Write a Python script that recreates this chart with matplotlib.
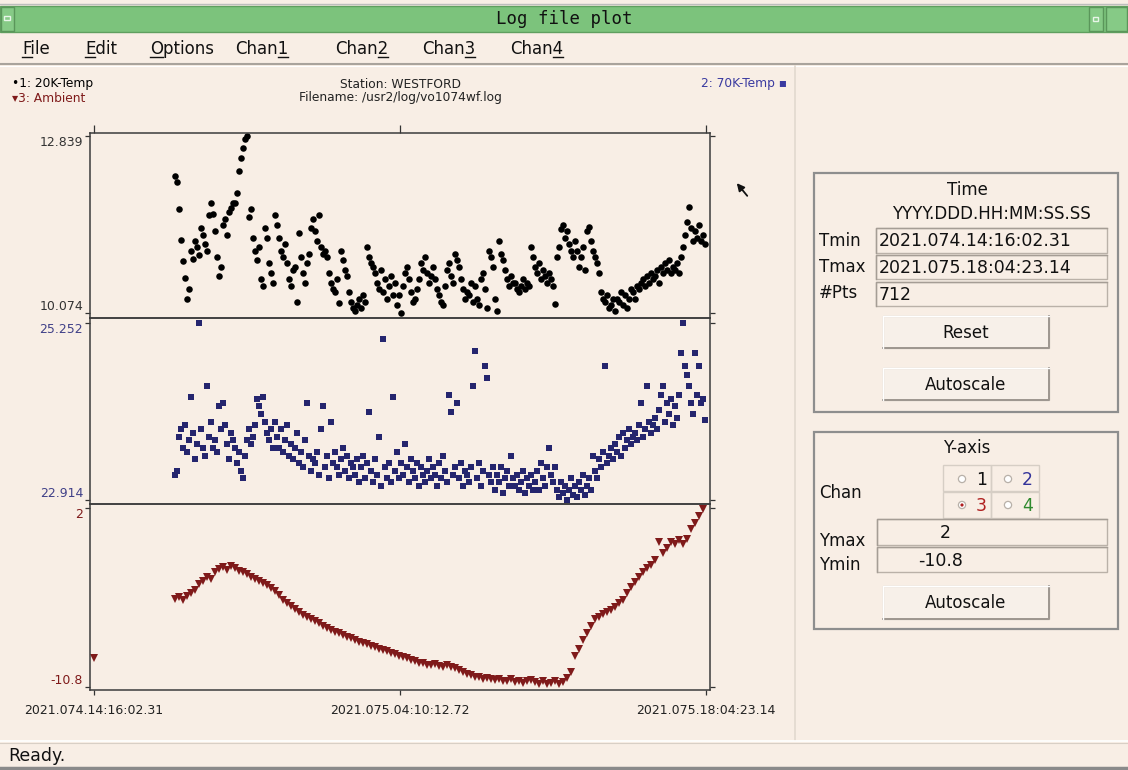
import numpy as np
import matplotlib.pyplot as plt
from matplotlib.patches import Rectangle, Circle
from matplotlib.transforms import blended_transform_factory
from matplotlib.font_manager import FontProperties

# ---- log file info ----
station = 'WESTFORD'
filename = '/usr2/log/vo1074wf.log'
tmin_str = '2021.074.14:16:02.31'
tmax_str = '2021.075.18:04:23.14'
tmid_str = '2021.075.04:10:12.72'
npts = 712

ch1_ticks = [10.074, 12.839]
ch2_ticks = [22.914, 25.252]
ch3_ticks = [-10.8, 2]
ch3_labels = ['-10.8', '2']

# samples start after a gap (hours after Tmin)
first_hr = 3.68
last_hr = 27.77
amb_last_hr = 27.68

temp20k = [
    12.21, 12.12, 11.70, 11.22, 10.88, 10.62, 10.30, 10.45, 11.05, 10.92,
    11.20, 11.10, 10.98, 11.40, 11.30, 11.15, 11.05, 11.60, 11.80, 11.62,
    11.35, 10.95, 10.65, 10.80, 11.45, 11.55, 11.30, 11.65, 11.72, 11.80,
    11.80, 11.95, 12.30, 12.50, 12.65, 12.80, 12.84, 11.58, 11.70, 11.25,
    11.05, 10.90, 11.10, 10.60, 10.50, 11.40, 11.25, 10.85, 10.70, 10.55,
    11.60, 11.45, 11.25, 11.05, 10.95, 11.15, 10.85, 10.60, 10.50, 10.75,
    10.80, 10.25, 11.33, 10.95, 10.70, 10.55, 10.85, 11.00, 11.40, 11.55,
    11.35, 11.20, 11.60, 11.10, 11.00, 11.05, 10.95, 10.70, 10.55, 10.45,
    10.40, 10.60, 10.23, 11.05, 10.90, 10.75, 10.65, 10.40, 10.25, 10.15,
    10.10, 10.20, 10.30, 10.15, 10.35, 10.25, 11.10, 10.95, 10.85, 10.80,
    10.70, 10.55, 10.45, 10.75, 10.40, 10.60, 10.30, 10.50, 10.65, 10.35,
    10.55, 10.20, 10.35, 10.08, 10.50, 10.70, 10.80, 10.60, 10.40, 10.25,
    10.30, 10.45, 10.60, 10.85, 10.75, 10.95, 10.70, 10.55, 10.65, 10.80,
    10.60, 10.45, 10.35, 10.25, 10.20, 10.50, 10.75, 10.85, 10.65, 10.55,
    11.00, 10.90, 10.80, 10.60, 10.45, 10.30, 10.40, 10.35, 10.55, 10.25,
    10.50, 10.30, 10.20, 10.60, 10.70, 10.45, 10.15, 11.05, 10.95, 10.80,
    10.30, 10.10, 11.20, 11.00, 10.90, 10.75, 10.60, 10.50, 10.65, 10.55,
    10.55, 10.45, 10.40, 10.50, 10.60, 10.45, 10.55, 10.50, 11.10, 10.95,
    10.80, 10.70, 10.85, 10.60, 10.75, 10.65, 10.55, 10.70, 10.60, 10.50,
    10.22, 10.95, 11.10, 11.38, 11.45, 11.25, 11.35, 11.15, 11.05, 10.95,
    11.20, 11.05, 10.80, 10.95, 11.10, 10.75, 11.35, 11.42, 11.20, 11.05,
    10.95, 10.85, 10.70, 10.40, 10.30, 10.25, 10.35, 10.15, 10.20, 10.30,
    10.10, 10.30, 10.25, 10.40, 10.20, 10.35, 10.15, 10.30, 10.45, 10.40,
    10.30, 10.50, 10.45, 10.55, 10.60, 10.50, 10.65, 10.55, 10.70, 10.60,
    10.65, 10.75, 10.55, 10.80, 10.70, 10.85, 10.75, 10.90, 10.70, 10.80,
    10.75, 10.85, 10.70, 10.95, 11.10, 11.30, 11.50, 11.73, 11.40, 11.20,
    11.35, 11.25, 11.45, 11.20, 11.30, 11.15,
]

temp70k = [
    23.25, 23.30, 23.75, 23.85, 23.60, 23.90, 23.55, 23.70, 24.27, 23.80,
    23.45, 23.65, 25.25, 23.85, 23.60, 23.50, 24.42, 23.75, 23.95, 23.60,
    23.70, 23.55, 24.15, 23.85, 24.20, 23.90, 23.65, 23.45, 23.80, 23.70,
    23.60, 23.40, 23.55, 23.30, 23.20, 23.50, 23.70, 23.85, 23.65, 23.75,
    23.90, 24.25, 24.15, 24.05, 24.27, 23.95, 23.80, 23.70, 23.85, 23.60,
    23.95, 23.75, 23.60, 23.85, 23.55, 23.70, 23.90, 23.50, 23.65, 23.45,
    23.60, 23.80, 23.40, 23.55, 23.35, 23.70, 24.20, 23.50, 23.30, 23.45,
    23.40, 23.55, 23.25, 23.85, 24.15, 23.35, 23.50, 23.20, 23.95, 23.40,
    23.55, 23.35, 23.25, 23.45, 23.60, 23.30, 23.50, 23.20, 23.40, 23.35,
    23.25, 23.45, 23.15, 23.35, 23.50, 23.20, 23.40, 24.07, 23.30, 23.15,
    23.45, 23.25, 23.75, 23.10, 25.04, 23.35, 23.20, 23.40, 23.15, 24.27,
    23.30, 23.55, 23.20, 23.40, 23.25, 23.65, 23.35, 23.15, 23.45, 23.30,
    23.20, 23.40, 23.10, 23.35, 23.25, 23.15, 23.30, 23.45, 23.20, 23.35,
    23.25, 23.10, 23.40, 23.20, 23.50, 23.30, 23.15, 24.30, 24.08, 23.25,
    23.35, 24.19, 23.20, 23.40, 23.10, 23.30, 23.25, 23.15, 23.35, 24.42,
    24.88, 23.20, 23.40, 23.10, 23.30, 24.68, 24.52, 23.25, 23.15, 23.35,
    23.05, 23.25, 23.15, 23.35, 23.00, 23.20, 23.30, 23.10, 23.50, 23.20,
    23.10, 23.25, 23.05, 23.15, 23.30, 23.00, 23.20, 23.10, 23.25, 23.05,
    23.15, 23.30, 23.05, 23.40, 23.20, 23.10, 23.35, 23.60, 23.25, 23.15,
    23.35, 23.05, 22.95, 23.15, 23.00, 23.10, 22.92, 23.05, 23.20, 22.98,
    23.10, 22.95, 23.15, 23.05, 23.25, 22.98, 23.10, 23.20, 23.05, 23.49,
    23.30, 23.20, 23.45, 23.35, 23.55, 24.68, 23.40, 23.50, 23.60, 23.45,
    23.65, 23.55, 23.75, 23.50, 23.80, 23.60, 23.70, 23.85, 23.65, 23.75,
    23.80, 23.70, 23.90, 24.19, 23.75, 23.85, 24.42, 23.95, 23.80, 23.90,
    24.00, 23.85, 24.10, 24.30, 24.42, 23.95, 24.20, 24.05, 24.25, 23.90,
    24.15, 24.00, 24.30, 24.85, 25.25, 24.68, 24.57, 24.42, 24.20, 24.05,
    24.85, 24.30, 24.68, 24.19, 24.25, 23.97,
]

ambient_first = -8.73   # lone reading at Tmin
ambient = [
    -4.50, -4.35, -4.60, -4.30, -4.05, -3.85, -3.40, -3.25, -2.95, -3.10,
    -2.55, -2.35, -2.20, -2.40, -2.15, -2.30, -2.50, -2.60, -2.75, -2.90,
    -3.05, -3.20, -3.35, -3.50, -3.75, -3.95, -4.25, -4.55, -4.80, -5.00,
    -5.25, -5.45, -5.65, -5.80, -5.95, -6.10, -6.25, -6.40, -6.55, -6.70,
    -6.85, -6.95, -7.10, -7.20, -7.30, -7.45, -7.55, -7.65, -7.75, -7.85,
    -7.95, -8.05, -8.15, -8.25, -8.35, -8.45, -8.55, -8.65, -8.75, -8.85,
    -8.95, -9.05, -9.10, -9.20, -9.25, -9.15, -9.30, -9.35, -9.25, -9.40,
    -9.45, -9.60, -9.75, -9.85, -9.95, -10.05, -10.10, -10.20, -10.15, -10.25,
    -10.30, -10.20, -10.35, -10.40, -10.25, -10.45, -10.35, -10.50, -10.40, -10.30,
    -10.45, -10.55, -10.40, -10.60, -10.50, -10.35, -10.55, -10.45, -10.15, -9.70,
    -8.60, -8.10, -7.45, -6.95, -6.40, -5.95, -5.80, -5.60, -5.45, -5.30,
    -5.05, -4.80, -4.55, -4.10, -3.65, -3.30, -2.95, -2.60, -2.30, -2.05,
    -1.75, -0.45, -1.20, -0.85, -0.40, -0.55, -0.30, -0.60, -0.20, 0.50,
    0.95, 1.45, 1.90,
]

# ---- colours ----
BG = '#f8eee5'
GREEN = '#7cc37c'
C1 = '#000000'
C2 = '#25256e'
C3 = '#7f1a1a'
EDGE = '#8e8e8e'
W, H = 1128, 770


def hours(s):
    _, d, rest = s.split('.', 2)
    h, m, sec = rest.split(':')
    return int(d) * 24 + int(h) + int(m) / 60 + float(sec) / 3600


T = hours(tmax_str) - hours(tmin_str)

fig = plt.figure(figsize=(W / 100, H / 100), dpi=100)
fig.patch.set_facecolor(BG)
gui = fig.add_axes([0, 0, 1, 1], zorder=0)
gui.set_xlim(0, W)
gui.set_ylim(H, 0)
gui.axis('off')

# ---- window chrome ----
gui.plot([0, W], [4, 4], color='#bdbdbd', lw=1)
gui.add_patch(Rectangle((0, 6), W, 26, fc=GREEN, ec='#5f9f5f', lw=1))
for bx, bw in [(1, 13), (1089, 14), (1106, 21)]:
    gui.add_patch(Rectangle((bx, 7), bw, 24, fc='#86ca86', ec='#5a965a', lw=1))
gui.add_patch(Rectangle((4, 16), 6, 4, fc='none', ec='#e8f5e8', lw=1))
gui.add_patch(Rectangle((1093, 17), 5, 4, fc='none', ec='#e8f5e8', lw=1))
gui.text(W / 2, 19, 'Log file plot', ha='center', va='center',
         family='DejaVu Sans Mono', fontsize=12.5, color='#111111')

# menu bar
renderer = fig.canvas.get_renderer()
menu_fp = FontProperties(family='DejaVu Sans', size=12)
menu = [('File', 22, 0), ('Edit', 85, 0), ('Options', 150, 0),
        ('Chan1', 235, 4), ('Chan2', 335, 4), ('Chan3', 422, 4), ('Chan4', 510, 4)]
for label, mx, k in menu:
    gui.text(mx, 54, label, ha='left', va='baseline', fontproperties=menu_fp, color='#111111')
    w0 = renderer.get_text_width_height_descent(label[:k], menu_fp, ismath=False)[0] if k else 0
    w1 = renderer.get_text_width_height_descent(label[:k + 1], menu_fp, ismath=False)[0]
    gui.plot([mx + w0, mx + w1], [57, 57], color='#111111', lw=1)
gui.plot([0, W], [64, 64], color='#a9a39c', lw=1.5)
gui.plot([0, W], [65.5, 65.5], color='#ffffff', lw=0.8)

# separators / status bar
gui.plot([795, 795], [66, 740], color='#e2d9cf', lw=1.2)
gui.plot([0, W], [741, 741], color='#ffffff', lw=1.2)
gui.plot([0, W], [742.5, 742.5], color='#d8cfc5', lw=0.8)
gui.text(8, 756, 'Ready.', ha='left', va='center', fontsize=12.5, color='#111111')
gui.plot([0, W], [768, 768], color='#8a8a8a', lw=2.5)

# header text above the plots
gui.text(12, 84, '\u20221: 20K-Temp', ha='left', va='center', fontsize=8.8, color=C1)
gui.text(12, 98, '\u25be3: Ambient', ha='left', va='center', fontsize=8.8, color=C3)
gui.text(400, 84, 'Station: ' + station, ha='center', va='center', fontsize=8.8, color='#222222')
gui.text(400, 98, 'Filename: ' + filename, ha='center', va='center', fontsize=8.8, color='#222222')
gui.text(787, 84, '2: 70K-Temp \u25aa', ha='right', va='center', fontsize=8.8, color='#3a3aa0')

# mouse pointer
gui.annotate('', xy=(735, 181), xytext=(749, 198),
             arrowprops=dict(arrowstyle='-|>', color='#111111', lw=1.3, mutation_scale=11))


# ---- the three plots ----
def px_axes(x0, y0, x1, y1):
    a = fig.add_axes([x0 / W, 1 - y1 / H, (x1 - x0) / W, (y1 - y0) / H], zorder=2)
    a.set_facecolor('none')
    for sp in a.spines.values():
        sp.set_color('#3c3c3c')
        sp.set_linewidth(1.1)
    a.set_xlim(-4 / 22, T + 4 / 22)
    a.tick_params(axis='y', direction='out', length=3.8, width=0.9, left=True, right=True,
                  labelleft=False, color='#333333')
    a.tick_params(axis='x', direction='out', length=3.8, width=0.9, bottom=False, top=False,
                  labelbottom=False, color='#333333')
    return a


ax1 = px_axes(90, 133, 710, 318)
ax2 = px_axes(90, 318, 710, 504)
ax3 = px_axes(90, 504, 710, 690)

t1 = np.linspace(first_hr, last_hr, len(temp20k))
t2 = np.linspace(first_hr, last_hr, len(temp70k))
t3 = np.concatenate([[0.0], np.linspace(first_hr, amb_last_hr, len(ambient))])
amb = np.concatenate([[ambient_first], ambient])

ax1.plot(t1, temp20k, 'o', color=C1, ms=4.7, mew=0)
ax2.plot(t2, temp70k, 's', color=C2, ms=4.3, mew=0)
ax3.plot(t3, amb, 'v', color=C3, ms=6.3, mew=0)

ax1.set_ylim(9.996, 12.886)
ax2.set_ylim(22.861, 25.318)
ax3.set_ylim(-11.01, 2.29)

for a, ticks, labels, col in [(ax1, ch1_ticks, [f'{v:.3f}' for v in ch1_ticks], '#333333'),
                              (ax2, ch2_ticks, [f'{v:.3f}' for v in ch2_ticks], '#404088'),
                              (ax3, ch3_ticks, ch3_labels, C3)]:
    a.set_yticks(ticks)
    tr = blended_transform_factory(a.transAxes, a.transData)
    a.text(-0.011, ticks[0], labels[0], transform=tr, ha='right', va='bottom', fontsize=9, color=col)
    a.text(-0.011, ticks[1], labels[1], transform=tr, ha='right', va='top', fontsize=9, color=col)

xt = [0, T / 2, T]
ax1.set_xticks(xt)
ax1.tick_params(axis='x', top=True, length=5.5)
ax3.set_xticks(xt, [tmin_str, tmid_str, tmax_str])
ax3.tick_params(axis='x', bottom=True, labelbottom=True, pad=6, labelsize=9, labelcolor='#222222')


# ---- right-hand control panel ----
def entry(x0, y0, x1, y1, txt, tx, ha='left'):
    gui.add_patch(Rectangle((x0, y0), x1 - x0, y1 - y0, fc=BG, ec='#bab1a8', lw=1))
    gui.plot([x0, x0, x1], [y1, y0, y0], color='#a59d95', lw=1)
    gui.text(tx, (y0 + y1) / 2 + 1, txt, ha=ha, va='center', fontsize=12.5, color='#111111')


def button(x0, y0, x1, y1, txt):
    gui.add_patch(Rectangle((x0, y0), x1 - x0, y1 - y0, fc='#f7f0e9', ec='#d3cbc2', lw=1))
    gui.plot([x0, x1, x1], [y1, y1, y0], color='#9d968f', lw=1.4)
    gui.plot([x0, x0, x1], [y1, y0, y0], color='#ffffff', lw=1)
    gui.text((x0 + x1) / 2, (y0 + y1) / 2 + 1, txt, ha='center', va='center',
             fontsize=12, color='#111111')


# Time frame
gui.add_patch(Rectangle((814, 173), 304, 239, fc='none', ec=EDGE, lw=1.6))
gui.text(967, 190, 'Time', ha='center', va='center', fontsize=12, color='#111111')
gui.text(991, 214, 'YYYY.DDD.HH:MM:SS.SS', ha='center', va='center', fontsize=12, color='#111111')
for lab, yy in [('Tmin', 241), ('Tmax', 267), ('#Pts', 293)]:
    gui.text(819, yy, lab, ha='left', va='center', fontsize=12, color='#111111')
entry(876, 228, 1107, 253, tmin_str, 879)
entry(876, 255, 1107, 279, tmax_str, 879)
entry(876, 282, 1107, 306, str(npts), 879)
button(883, 316, 1049, 348, 'Reset')
button(883, 368, 1049, 400, 'Autoscale')

# Y-axis frame
gui.add_patch(Rectangle((814, 432), 304, 197, fc='none', ec=EDGE, lw=1.6))
gui.text(967, 448, 'Y-axis', ha='center', va='center', fontsize=12, color='#111111')
gui.text(819, 493, 'Chan', ha='left', va='center', fontsize=12, color='#111111')
for cx0 in (943, 991):
    for cy0 in (465, 492):
        gui.add_patch(Rectangle((cx0, cy0), 48, 26, fc='none', ec='#d6cec5', lw=1))
radio = [('1', 962, 479, '#111111', False), ('2', 1008, 479, '#33339a', False),
         ('3', 962, 505, '#b02020', True), ('4', 1008, 505, '#2f8a2f', False)]
for lab, cx, cy, col, sel in radio:
    gui.add_patch(Circle((cx, cy), 3.6, fc='#ffffff', ec='#b8b0a8', lw=0.9))
    if sel:
        gui.add_patch(Circle((cx, cy), 1.6, fc='#b02020', ec='none'))
    gui.text(cx + 14, cy + 1, lab, ha='left', va='center', fontsize=12.5, color=col)
gui.text(819, 541, 'Ymax', ha='left', va='center', fontsize=12, color='#111111')
gui.text(819, 565, 'Ymin', ha='left', va='center', fontsize=12, color='#111111')
entry(877, 519, 1107, 545, '2', 945, ha='center')
entry(877, 547, 1107, 572, '-10.8', 941, ha='center')
button(883, 586, 1049, 619, 'Autoscale')

fig.savefig('out.png', dpi=100, facecolor=BG)
